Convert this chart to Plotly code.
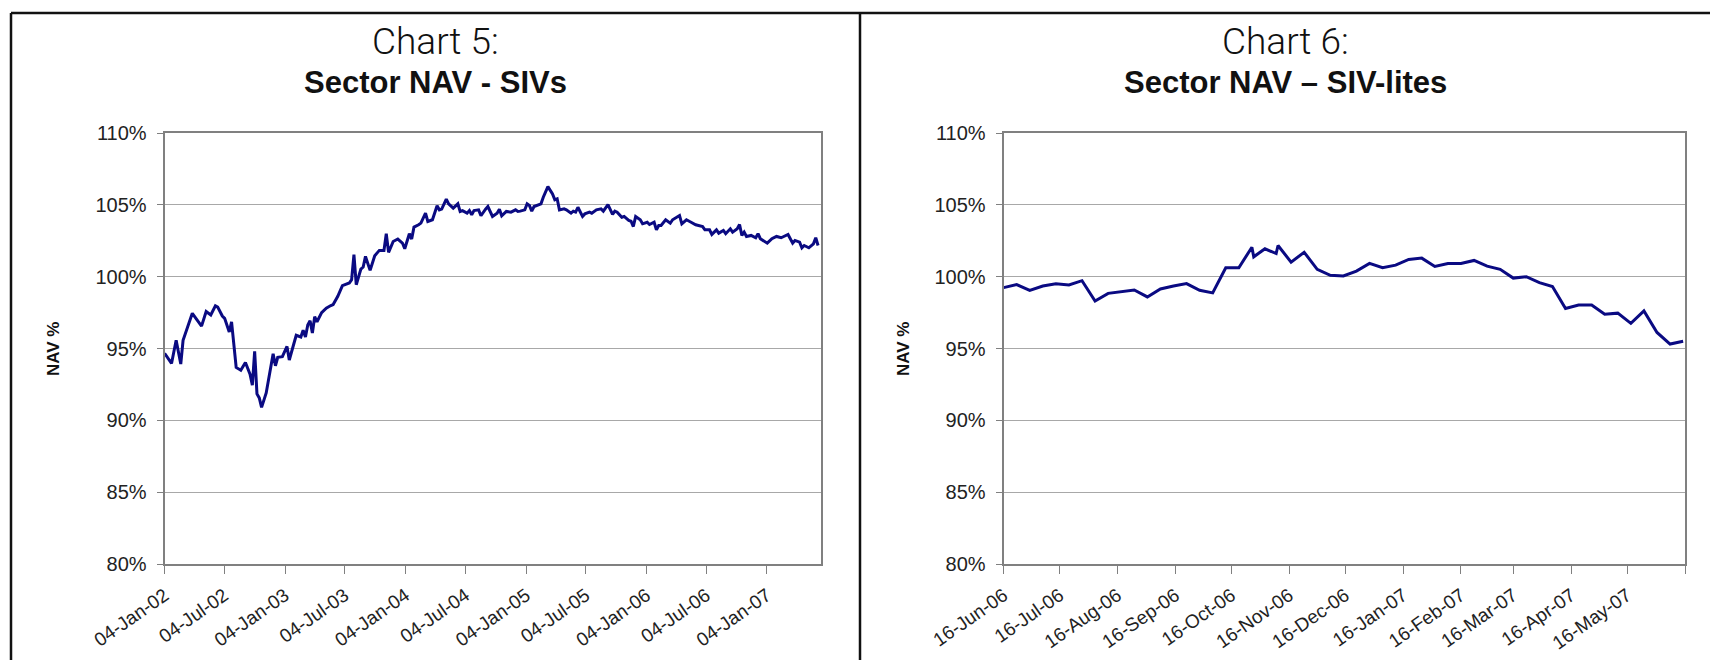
import numpy as np
import pandas as pd
import plotly.graph_objects as go

# ---------------------------------------------------------------------------
# Data
# ---------------------------------------------------------------------------
# Chart 5: SIV sector NAV, weekly observations (week number counted from 04-Jan-02)
siv_start = "2002-01-04"
siv_week = [
    0, 3, 5, 7, 8, 12, 16, 18, 20, 22, 23, 25, 26, 28, 29, 30, 31, 33, 35, 37,
    38, 39, 40, 41, 42, 44, 46, 47, 48, 49, 51, 53, 54, 57, 59, 60, 61, 62, 63, 64,
    65, 66, 68, 70,
    72, 73, 75, 77, 80, 81, 82, 83, 85, 86, 87, 89, 91, 93, 95, 96, 97, 99, 101, 103,
    104, 106, 107, 108, 110, 111, 113, 114, 116, 118, 119, 120, 122, 123, 125, 127,
    128, 129, 131, 132, 133, 134, 136, 137, 139, 140, 142, 144, 145, 146, 148, 150,
    152, 153,
    154, 156, 157, 158, 159, 160, 163, 164, 166, 168, 169, 170, 171, 173, 174, 176,
    177, 178, 179, 181, 182, 184, 185, 187, 189, 190, 192, 194, 195, 196, 198, 199,
    201, 202, 203, 204, 206, 207, 209, 210, 212, 213, 214, 215, 217,
    219, 220, 223, 224, 226, 228, 230, 233, 234, 236, 237, 239, 240, 242, 243, 245,
    246, 248, 249, 250, 251, 252, 254, 256, 257, 258, 261, 263, 265, 267, 269, 270,
    272, 273, 275, 276, 277, 279, 281, 282, 283,
]
siv_nav = [
    94.67, 93.96, 95.57, 93.92, 95.57, 97.45, 96.56, 97.57, 97.33, 97.97, 97.88, 97.26,
    97.10, 96.15, 96.86, 95.33, 93.68, 93.49, 94.03, 93.21, 92.45, 94.81, 91.84, 91.56,
    90.90, 91.91, 93.80, 94.63, 93.80, 94.39, 94.43, 95.14, 94.20, 95.92, 95.80, 96.27,
    95.80, 96.63, 96.93, 96.08, 97.21, 96.86, 97.50, 97.81,
    97.99, 98.06, 98.63, 99.38, 99.56, 99.79, 101.53, 99.44, 100.53, 100.67, 101.41,
    100.44, 101.46, 101.83, 101.83, 102.99, 101.69, 102.45, 102.62, 102.34, 101.94,
    102.99, 102.62, 103.45, 103.61, 103.73, 104.42, 103.84, 103.96, 104.93, 104.65,
    104.70, 105.40, 105.07, 104.77, 105.07, 104.54, 104.60, 104.42, 104.60, 104.31,
    104.60, 104.65, 104.24, 104.70, 104.88, 104.19, 104.42, 104.70, 104.24, 104.54,
    104.49, 104.65, 104.54,
    104.56, 104.65, 105.07, 104.95, 104.56, 104.88, 105.07, 105.53, 106.27, 105.76,
    105.35, 105.42, 104.65, 104.72, 104.65, 104.42, 104.56, 104.49, 104.83, 104.19,
    104.37, 104.49, 104.42, 104.65, 104.72, 104.56, 105.02, 104.33, 104.56, 104.49,
    104.14, 104.19, 103.91, 103.86, 103.49, 104.19, 103.96, 103.68, 103.79, 103.63,
    103.79, 103.26, 103.56, 103.56, 103.96,
    103.72, 103.96, 104.26, 103.68, 103.96, 103.79, 103.61, 103.49, 103.26, 103.26,
    102.94, 103.26, 103.03, 103.22, 102.99, 103.33, 103.10, 103.33, 103.63, 102.87,
    103.10, 102.80, 102.87, 102.71, 102.99, 102.64, 102.33, 102.64, 102.80, 102.71,
    102.87, 102.94, 102.33, 102.52, 102.40, 102.01, 102.17, 102.01, 102.29, 102.71,
    102.17,
]
siv_tick_dates = [
    "2002-01-04", "2002-07-04", "2003-01-04", "2003-07-04", "2004-01-04", "2004-07-04",
    "2005-01-04", "2005-07-04", "2006-01-04", "2006-07-04", "2007-01-04",
]
siv_tick_labels = [
    "04-Jan-02", "04-Jul-02", "04-Jan-03", "04-Jul-03", "04-Jan-04", "04-Jul-04",
    "04-Jan-05", "04-Jul-05", "04-Jan-06", "04-Jul-06", "04-Jan-07",
]
siv_range = ["2002-01-04", "2007-06-16"]

# Chart 6: SIV-lite sector NAV
lite_dates = [
    "2006-06-16", "2006-06-23", "2006-06-30", "2006-07-07", "2006-07-14", "2006-07-21",
    "2006-07-28", "2006-08-04", "2006-08-11", "2006-08-18", "2006-08-25", "2006-09-01",
    "2006-09-08", "2006-09-15", "2006-09-22", "2006-09-29", "2006-10-06", "2006-10-13",
    "2006-10-20", "2006-10-27", "2006-10-28", "2006-11-03", "2006-11-09", "2006-11-10",
    "2006-11-17", "2006-11-24", "2006-12-01", "2006-12-08", "2006-12-15", "2006-12-22",
    "2006-12-29", "2007-01-05", "2007-01-12", "2007-01-19", "2007-01-26", "2007-02-02",
    "2007-02-09", "2007-02-16", "2007-02-23", "2007-03-02", "2007-03-09", "2007-03-16",
    "2007-03-23", "2007-03-30", "2007-04-06", "2007-04-13", "2007-04-20", "2007-04-27",
    "2007-05-04", "2007-05-11", "2007-05-18", "2007-05-25", "2007-06-01", "2007-06-08",
    "2007-06-15",
]
lite_nav = [
    99.24, 99.45, 99.05, 99.35, 99.51, 99.42, 99.72, 98.31, 98.84, 98.96, 99.07, 98.59,
    99.14, 99.35, 99.52, 99.05, 98.87, 100.62, 100.62, 102.05, 101.38, 101.94, 101.61,
    102.17, 101.01, 101.70, 100.51, 100.09, 100.05, 100.39, 100.92, 100.62, 100.80,
    101.20, 101.29, 100.71, 100.92, 100.92, 101.13, 100.73, 100.51, 99.90, 100.00,
    99.58, 99.31, 97.79, 98.03, 98.03, 97.39, 97.46, 96.75, 97.62, 96.12, 95.31, 95.50,
]
lite_tick_dates = [
    "2006-06-16", "2006-07-16", "2006-08-16", "2006-09-16", "2006-10-16", "2006-11-16",
    "2006-12-16", "2007-01-16", "2007-02-16", "2007-03-16", "2007-04-16", "2007-05-16",
    "2007-06-16",
]
lite_tick_labels = [
    "16-Jun-06", "16-Jul-06", "16-Aug-06", "16-Sep-06", "16-Oct-06", "16-Nov-06",
    "16-Dec-06", "16-Jan-07", "16-Feb-07", "16-Mar-07", "16-Apr-07", "16-May-07", "",
]
lite_range = ["2006-06-16", "2007-06-16"]

nav_tick_vals = [80, 85, 90, 95, 100, 105, 110]
nav_tick_labels = ["80%", "85%", "90%", "95%", "100%", "105%", "110%"]

# ---------------------------------------------------------------------------
# Figure
# ---------------------------------------------------------------------------
W, H = 1710, 660


def fx(px):
    return px / W


def fy(py):
    return 1 - py / H


siv_dates = pd.Timestamp(siv_start) + pd.to_timedelta(np.array(siv_week) * 7, unit="D")

LINE = "#0a0a82"
AXIS = "#808080"
GRID = "#a8a8a8"
SANS = "Liberation Sans, Arial, sans-serif"
YTICK_FONT = dict(family=SANS, size=20, color="#222222")
XTICK_FONT = dict(family=SANS, size=19, color="#222222")

fig = go.Figure()
fig.add_trace(go.Scatter(x=siv_dates, y=siv_nav, mode="lines",
                         line=dict(color=LINE, width=3), xaxis="x", yaxis="y",
                         showlegend=False))
fig.add_trace(go.Scatter(x=pd.to_datetime(lite_dates), y=lite_nav, mode="lines",
                         line=dict(color=LINE, width=3), xaxis="x2", yaxis="y2",
                         showlegend=False))

plot_top, plot_bottom = 133, 564
ydom = [fy(plot_bottom), fy(plot_top)]


def x_axis(domain, rng, vals, labels, anchor):
    return dict(domain=domain, anchor=anchor, type="date", range=rng,
                tickmode="array", tickvals=vals, ticktext=labels, tickangle=-35,
                ticks="outside", ticklen=8, tickwidth=1, tickcolor=AXIS,
                ticklabelstandoff=3,
                showline=True, linecolor=AXIS, linewidth=2, mirror=True,
                showgrid=False, zeroline=False, tickfont=XTICK_FONT, automargin=False)


def y_axis(anchor):
    return dict(domain=ydom, anchor=anchor, range=[80, 110], tickmode="array",
                tickvals=nav_tick_vals, ticktext=nav_tick_labels,
                ticks="outside", ticklen=6, tickwidth=1, tickcolor=AXIS,
                ticklabelstandoff=6,
                showline=True, linecolor=AXIS, linewidth=2, mirror=True,
                showgrid=True, gridcolor=GRID, gridwidth=1, zeroline=False,
                tickfont=YTICK_FONT, automargin=False)


fig.update_layout(
    width=W, height=H,
    margin=dict(l=0, r=0, t=0, b=0),
    paper_bgcolor="white", plot_bgcolor="white",
    xaxis=x_axis([fx(164.6), fx(820.7)], siv_range, siv_tick_dates, siv_tick_labels, "y"),
    yaxis=y_axis("x"),
    xaxis2=x_axis([fx(1003.6), fx(1685.0)], lite_range, lite_tick_dates, lite_tick_labels, "y2"),
    yaxis2=y_axis("x2"),
)

# Panel frame
frame = dict(color="#111111", width=2.5)
for x0, y0, x1, y1 in [(11, 13, 1710, 13), (11, 13, 11, 660), (860, 13, 860, 660)]:
    fig.add_shape(type="line", xref="paper", yref="paper",
                  x0=fx(x0), y0=fy(y0), x1=fx(x1), y1=fy(y1), line=frame)

TITLE_LIGHT = dict(family="Roboto, Liberation Sans, sans-serif", size=37, color="#111111", weight=300)
TITLE_BOLD = dict(family=SANS, size=31, color="#111111", weight="bold")
AXIS_TITLE = dict(family=SANS, size=17, color="#111111", weight="bold")

for cx, line1, line2, ax_x in [(435.5, "Chart 5:", "Sector NAV - SIVs", 53),
                               (1285, "Chart 6:", "Sector NAV \u2013 SIV-lites", 903)]:
    fig.add_annotation(x=fx(cx), y=fy(41), xref="paper", yref="paper", text=line1,
                       showarrow=False, xanchor="center", yanchor="middle", font=TITLE_LIGHT)
    fig.add_annotation(x=fx(cx), y=fy(82), xref="paper", yref="paper", text=line2,
                       showarrow=False, xanchor="center", yanchor="middle", font=TITLE_BOLD)
    fig.add_annotation(x=fx(ax_x), y=fy(349), xref="paper", yref="paper", text="NAV %",
                       showarrow=False, textangle=-90, xanchor="center", yanchor="middle",
                       font=AXIS_TITLE)

fig.write_html("out.html")
